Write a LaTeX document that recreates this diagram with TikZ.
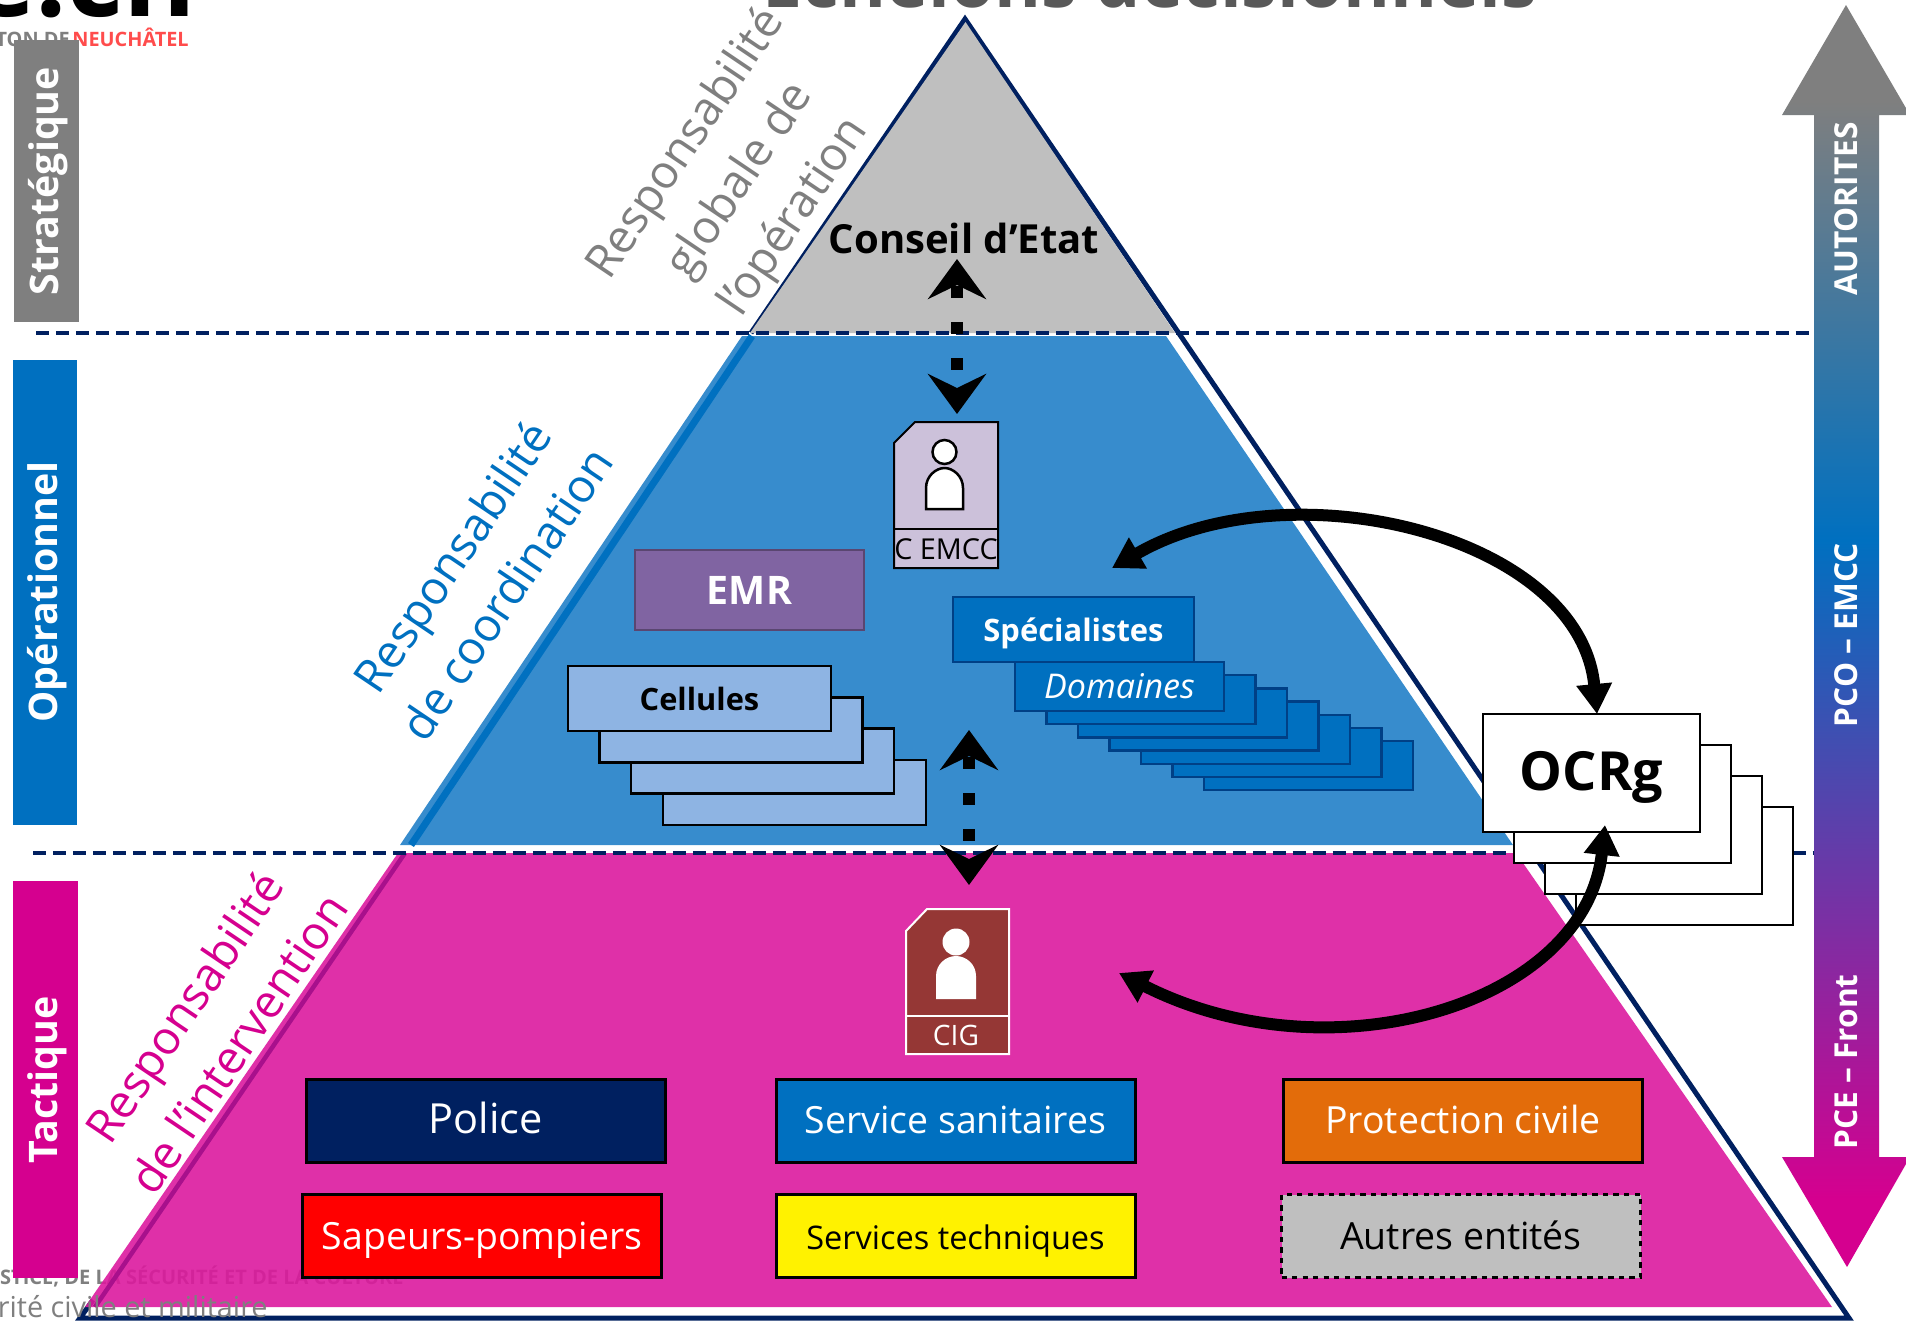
\documentclass[tikz,border=0pt]{standalone}
\usepackage{fontspec}
\usepackage{xcolor}
\usepackage{tikz}
\usetikzlibrary{arrows.meta, positioning}
\setmainfont{Open Sans}
\definecolor{pyrnavy}{HTML}{002060}
\definecolor{pyrgrey}{HTML}{BFBFBF}
\definecolor{midgrey}{HTML}{7F7F7F}
\definecolor{titlegrey}{HTML}{595959}
\definecolor{pyrblue}{HTML}{378CCD}
\definecolor{emccblue}{HTML}{0070C0}
\definecolor{pyrmag}{HTML}{DC1A9E}
\definecolor{darkmag}{HTML}{A8108C}
\definecolor{tacmag}{HTML}{D5008F}
\definecolor{emrviolet}{HTML}{8064A2}
\definecolor{cardlilac}{HTML}{CCC1DA}
\definecolor{cigbrown}{HTML}{953735}
\definecolor{cellblue}{HTML}{8EB4E3}
\definecolor{orangepc}{HTML}{E36C0A}
\pgfdeclareverticalshading{barshade}{100bp}{color(0bp)=(tacmag); color(27.7bp)=(tacmag); color(53.8bp)=(emccblue); color(71.2bp)=(midgrey); color(100bp)=(midgrey)}
\newcommand{\pix}{0.02cm}

\begin{document}
\begin{tikzpicture}[
  x=0.02cm, y=-0.02cm,
  sized/.style 2 args={minimum width=#1*\pix, minimum height=#2*\pix, inner sep=0pt},
  sz/.style={font=\fontsize{#1}{#1}\selectfont},
  szb/.style={font=\fontsize{#1}{#1}\selectfont\bfseries},
  levelbox/.style={rotate=90, text=white, szb=22.4, inner sep=0pt},
  resplabel/.style={rotate=56, align=center, font=\fontsize{26.3}{37}\selectfont, inner sep=0pt},
  entity/.style={draw=black, line width=0.06cm, sized={359}{83}, sz=21.3, text=white, text height=0.52cm, text depth=0pt},
  cellbox/.style={draw=black, line width=0.05cm, fill=cellblue, sized={263}{65}},
  domainbox/.style={draw=pyrnavy!60!emccblue, line width=0.05cm, fill=emccblue, sized={209}{49}, text=white},
  ocrbox/.style={draw=black, line width=0.05cm, fill=white, sized={217}{118}},
  barlabel/.style={rotate=90, text=white, szb=18, inner sep=0pt},
  levelline/.style={pyrnavy, line width=0.08cm, dash pattern=on 0.26cm off 0.14cm},
  dotarrow/.style={{Stealth[length=0.8cm,width=1.16cm,inset=0.28cm]}-{Stealth[length=0.8cm,width=1.16cm,inset=0.28cm]}, line width=0.24cm, dash pattern=on 0.24cm off 0.48cm, dash phase=0.66cm, black},
  bigarrow/.style={{Stealth[length=0.6cm,width=0.68cm,inset=0pt]}-{Stealth[length=0.6cm,width=0.68cm,inset=0pt]}, line width=0.24cm, black}
]
  \useasboundingbox (0,0) rectangle (1906,1320);
  \clip (0,0) rectangle (1906,1320);

  % what is left of the slide behind the picture
  \node[szb=40.7, text=titlegrey, anchor=base, inner sep=0pt] (title) at (1150,7) {Echelons décisionnels};
  \node[szb=63, text=black, anchor=base east, inner sep=0pt] (logo) at (197,16) {ne.ch};
  \node[szb=11.3, text=red!70, anchor=base east, inner sep=0pt] (canton) at (189,46) {NEUCHÂTEL};
  \node[szb=11.3, text=midgrey, anchor=base east, inner sep=0pt] (cantonde) at (70,46) {TON DE};
  \node[szb=11.4, text=midgrey, anchor=base east, inner sep=0pt] (dept) at (404,1284) {STICE, DE LA SÉCURITÉ ET DE LA CULTURE};

  % pyramid
  \draw[pyrnavy, line width=0.1cm] (751,333) -- (965,19) -- (1849,1318) -- (80,1318) -- (93,1300);
  \fill[pyrgrey] (965.5,22) -- (1175,333) -- (750,333) -- cycle;
  \fill[pyrblue] (742,336) -- (1166,336) -- (1513,845) -- (400,845) -- cycle;
  \draw[emccblue, line width=0.14cm] (752,336) -- (411,845);
  \fill[pyrmag, fill opacity=0.9] (398,853) -- (1516,853) -- (1832,1307) -- (85,1307) -- cycle;
  \draw[darkmag, line width=0.09cm] (405,853) -- (95,1307);
  \node[sz=16.4, text=midgrey, anchor=base east, inner sep=0pt] (service) at (268,1317) {rité civile et militaire};

  \draw[levelline] (36,333) -- (1810,333);
  \draw[levelline] (33,853) -- (1813,853);

  % levels on the left
  \fill[midgrey] (14,40) rectangle (79,322);
  \fill[emccblue] (13,360) rectangle (77,825);
  \fill[tacmag] (13,881) rectangle (78,1278);
  \node[levelbox] (strat) at (48,181) {Stratégique};
  \node[levelbox] (oper) at (47,592) {Opérationnel};
  \node[levelbox] (tact) at (47,1080) {Tactique};

  % responsibilities
  \node[resplabel, text=midgrey] (respglob) at (741,181) {Responsabilité\\globale de\\l’opération};
  \node[resplabel, text=emccblue] (respcoord) at (479,575) {Responsabilité\\de coordination};
  \node[resplabel, text=tacmag] (respint) at (211,1025) {Responsabilité\\de l’intervention};

  % bar on the right
  \path[shade, shading=barshade]
    (1846,5) -- (1910,115) -- (1879,115) -- (1879,1157) -- (1910,1157) -- (1847,1267)
    -- (1782,1157) -- (1814,1157) -- (1814,115) -- (1782,115) -- cycle;
  \node[barlabel] (autorites) at (1846,209) {AUTORITES};
  \node[barlabel] (pco) at (1846,635) {PCO – EMCC};
  \node[barlabel] (pce) at (1846,1062) {PCE – Front};

  % top and middle
  \node[szb=22.8, text=black, inner sep=0pt] (conseil) at (964,238) {Conseil d’Etat};

  \draw[black, fill=cardlilac, line width=0.04cm] (915,422) -- (998,422) -- (998,568) -- (894,568) -- (894,443) -- cycle;
  \draw[black, line width=0.04cm] (894,529) -- (998,529);
  \draw[black, fill=white, line width=0.05cm] (944.5,452) circle[radius=12];
  \draw[black, fill=white, line width=0.05cm] (926,509) -- (926,488) .. controls (926,476) and (936,468) .. (944.5,468)
    .. controls (953,468) and (963,476) .. (963,488) -- (963,509) -- cycle;
  \node[sz=16.4, text=black, inner sep=0pt] (cemcc) at (946,549) {C EMCC};

  \node[draw=emrviolet!70!black, line width=0.05cm, fill=emrviolet, sized={229}{80}, szb=22.4, text=white] (emr) at (749.5,590) {EMR};

  \foreach \i in {3,2,1}
    \node[cellbox] (cell\i) at ({699.5+\i*31.6},{698.5+\i*31.3}) {};
  \node[cellbox, szb=17.5, text=black] (cellules) at (699.5,698.5) {Cellules};

  \foreach \i in {6,5,...,1}
    \node[domainbox] (domain\i) at ({1119.5+\i*31.5},{686.5+\i*13.2}) {};
  \node[domainbox, font=\fontsize{19.4}{19.4}\selectfont\itshape] (domaines) at (1119.5,686.5) {Domaines};
  \node[draw=pyrnavy!60!emccblue, line width=0.05cm, fill=emccblue, sized={241}{65}, szb=17.6, text=white, text height=0.46cm, text depth=0pt] (specialistes) at (1073.5,629.5) {Spécialistes};

  % bottom
  \draw[white, fill=cigbrown, line width=0.04cm] (927,909) -- (1009,909) -- (1009,1054) -- (906,1054) -- (906,931) -- cycle;
  \draw[white, line width=0.04cm] (906,1016) -- (1009,1016);
  \fill[white] (956,942) circle[radius=13.5];
  \fill[white] (936,999) -- (936,976) .. controls (936,964) and (946,956) .. (956,956)
    .. controls (966,956) and (976,964) .. (976,976) -- (976,999) -- cycle;
  \node[sz=16, text=white, inner sep=0pt] (cig) at (956,1035) {CIG};

  \node[entity, fill=pyrnavy, sz=23.6] (police) at (485.5,1120.5) {Police};
  \node[entity, fill=emccblue] (sanitaires) at (955.5,1120.5) {Service sanitaires};
  \node[entity, fill=orangepc] (protection) at (1463,1120.5) {Protection civile};
  \node[entity, fill=red] (pompiers) at (482,1236) {Sapeurs-pompiers};
  \node[entity, fill=yellow, text=black, sz=18.5] (techniques) at (955.5,1236) {Services techniques};
  \node[entity, fill=pyrgrey, text=black, dashed, line width=0.05cm] (autres) at (1461,1236) {Autres entités};

  % OCRg
  \foreach \i in {3,2,1}
    \node[ocrbox] (ocr\i) at ({1591.5+\i*31},{773+\i*31}) {};
  \node[ocrbox, szb=30.7, text=black, text depth=0.1cm] (ocrg) at (1591.5,773) {OCRg};

  % links
  \coordinate (conseilend) at (957,259);
  \coordinate (cemccend) at (957,414);
  \coordinate (emccend) at (969,730);
  \coordinate (cigend) at (969,885);
  \draw[dotarrow] (conseilend) -- (cemccend);
  \draw[dotarrow] (emccend) -- (cigend);

  \coordinate (ocrtop) at (1597,714);
  \coordinate (ocrbot) at (1605,825);
  \coordinate (staffend) at (1112,568);
  \coordinate (cigside) at (1119,973);
  \draw[bigarrow] (ocrtop) .. controls (1580,535) and (1290,465) .. (staffend);
  \draw[bigarrow] (ocrbot) .. controls (1585,1005) and (1330,1080) .. (cigside);
\end{tikzpicture}
\end{document}
